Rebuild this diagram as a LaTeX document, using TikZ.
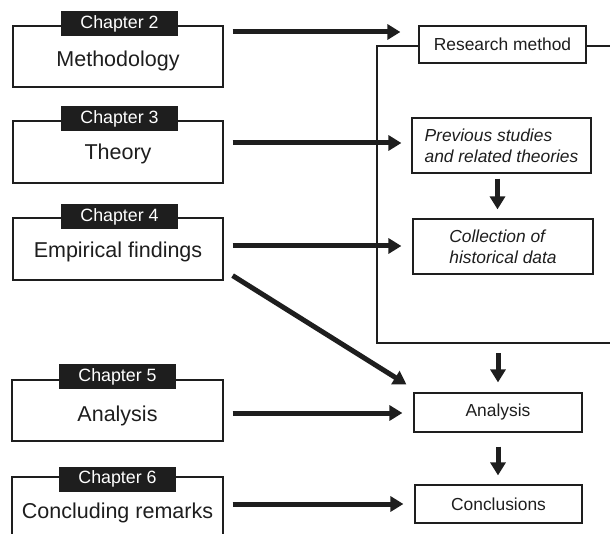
\documentclass[tikz,border=0pt]{standalone}
\usepackage{fontspec}
\setmainfont{Liberation Sans}
\usetikzlibrary{arrows.meta,calc}
\definecolor{ink}{HTML}{1E1E1E}
\begin{document}
\begin{tikzpicture}[x=1pt,y=-1pt,
  chbox/.style={draw=ink,line width=1.2pt,fill=white,minimum width=210pt,minimum height=61pt,inner sep=0pt},
  chlabel/.style={fill=ink,text=white,minimum width=117pt,minimum height=25pt,inner sep=0pt,font=\fontsize{17.8}{20}\selectfont},
  chtext/.style={anchor=base,font=\fontsize{21.5}{24}\selectfont,text=ink,inner sep=0pt},
  rbox/.style={draw=ink,line width=1.2pt,fill=white,inner sep=0pt,text=ink,font=\fontsize{17.4}{21}\selectfont},
  ritbox/.style={rbox,align=left,font=\fontsize{17.4}{21}\selectfont\itshape},
  frame/.style={draw=ink,line width=1.2pt},
  arr/.style={draw=ink,line width=5pt,-{Triangle[length=13pt,width=15pt]}}]
\useasboundingbox (0,0) rectangle (610,534);

% open frame around the research method part
\draw[frame] (640,46) -- (377,46) -- (377,343) -- (640,343);
\coordinate (fb) at (498,343);

% left chapter boxes
\node[chbox] (c2) at (118,56.5) {};
\node[chlabel] (l2) at (119.5,23.5) {Chapter 2};
\node[chtext] (t2) at (118,67) {Methodology};

\node[chbox,minimum height=62pt] (c3) at (118,152) {};
\node[chlabel] (l3) at (119.5,118.5) {Chapter 3};
\node[chtext] (t3) at (118,160) {Theory};

\node[chbox,minimum height=62pt] (c4) at (118,249) {};
\node[chlabel] (l4) at (119.5,216.5) {Chapter 4};
\node[chtext] (t4) at (118,258) {Empirical findings};

\node[chbox,minimum width=211pt] (c5) at (117.5,410.5) {};
\node[chlabel] (l5) at (117.5,376.5) {Chapter 5};
\node[chtext] (t5) at (117.5,421) {Analysis};

\node[chbox,minimum width=211pt,minimum height=63pt] (c6) at (117.5,508.5) {};
\node[chlabel] (l6) at (117.5,479) {Chapter 6};
\node[chtext] (t6) at (117.5,518) {Concluding remarks};

% right boxes
\node[rbox,minimum width=167pt,minimum height=37pt] (rm) at (502.5,44.5) {Research method};
\node[ritbox,minimum width=179pt,minimum height=55pt] (ps) at (501.5,145.5) {Previous studies\\and related theories};
\node[ritbox,minimum width=180pt,minimum height=55pt] (co) at (503,246.5) {Collection of\\historical data};
\node[rbox,minimum width=168pt,minimum height=39pt] (an) at (498,412.5) {Analysis};
\node[rbox,minimum width=167pt,minimum height=38pt] (cc) at (498.5,504) {Conclusions};

% helper coordinates for arrow rows / columns
\coordinate (y1) at (0,32);
\coordinate (y2) at (0,143);
\coordinate (y3) at (0,246);
\coordinate (y5) at (0,413);
\coordinate (y6) at (0,504);
\coordinate (vx) at (497.5,0);

% horizontal arrows
\draw[arr,shorten <=9pt,shorten >=18pt] (c2.east |- y1) -- (rm.west |- y1);
\draw[arr,shorten <=9pt,shorten >=10pt] (c3.east |- y2) -- (ps.west |- y2);
\draw[arr,shorten <=9pt,shorten >=11pt] (c4.east |- y3) -- (co.west |- y3);
\draw[arr,shorten <=9pt,shorten >=11pt] (c5.east |- y5) -- (an.west |- y5);
\draw[arr,shorten <=9pt,shorten >=11pt] (c6.east |- y6) -- (cc.west |- y6);

% diagonal arrow
\draw[arr] ([shift={(9,-5)}]c4.south east) -- ([shift={(-7,-8)}]an.north west);

% vertical arrows
\draw[arr,shorten <=5pt,shorten >=9pt] (ps.south -| vx) -- (co.north -| vx);
\draw[arr,shorten <=10pt,shorten >=10pt] (fb) -- (an.north -| fb);
\draw[arr,shorten <=14pt,shorten >=9pt] (an.south -| fb) -- (cc.north -| fb);
\end{tikzpicture}
\end{document}
